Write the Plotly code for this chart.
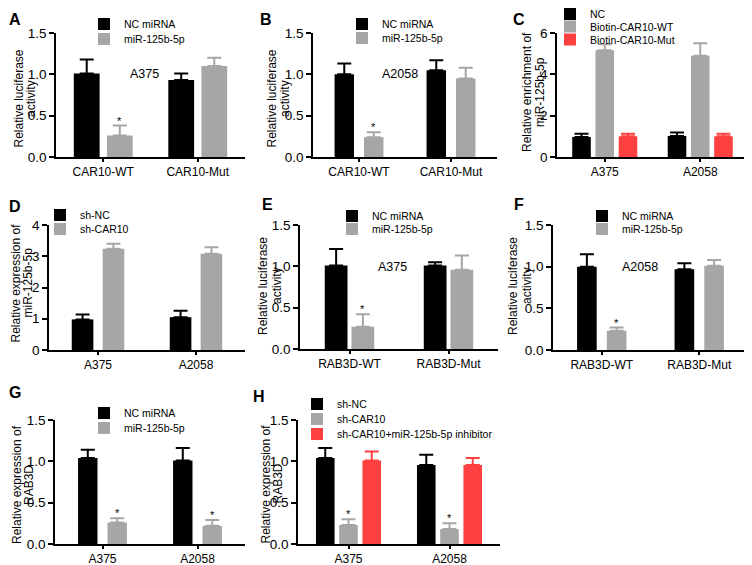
import plotly.graph_objects as go

W, H = 752, 565          # browser window
OFF = 8                  # page body margin in which the figure sits
FW, FH = W - OFF, H - OFF
FONT = "Liberation Sans, Arial, sans-serif"
BLACK, GRAY, RED = "#000000", "#a6a6a6", "#ff4040"

# ---------------- data ----------------
# A
a_cats = ["CAR10-WT", "CAR10-Mut"]
a_names = ["NC miRNA", "miR-125b-5p"]
a_nc, a_nc_err = [1.01, 0.93], [0.17, 0.08]
a_mir, a_mir_err = [0.26, 1.10], [0.12, 0.10]
a_nc_star, a_mir_star = [False, False], [True, False]
# B
b_cats = ["CAR10-WT", "CAR10-Mut"]
b_names = ["NC miRNA", "miR-125b-5p"]
b_nc, b_nc_err = [1.00, 1.05], [0.13, 0.12]
b_mir, b_mir_err = [0.24, 0.95], [0.06, 0.13]
b_nc_star, b_mir_star = [False, False], [True, False]
# C
c_cats = ["A375", "A2058"]
c_names = ["NC", "Biotin-CAR10-WT", "Biotin-CAR10-Mut"]
c_nc, c_nc_err = [0.97, 1.02], [0.16, 0.16]
c_wt, c_wt_err = [5.17, 4.90], [0.29, 0.61]
c_mut, c_mut_err = [1.00, 1.00], [0.13, 0.13]
# D
d_cats = ["A375", "A2058"]
d_names = ["sh-NC", "sh-CAR10"]
d_nc, d_nc_err = [0.98, 1.05], [0.16, 0.21]
d_sh, d_sh_err = [3.24, 3.08], [0.16, 0.21]
# E
e_cats = ["RAB3D-WT", "RAB3D-Mut"]
e_names = ["NC miRNA", "miR-125b-5p"]
e_nc, e_nc_err = [1.01, 1.01], [0.20, 0.04]
e_mir, e_mir_err = [0.27, 0.96], [0.15, 0.17]
e_nc_star, e_mir_star = [False, False], [True, False]
# F
f_cats = ["RAB3D-WT", "RAB3D-Mut"]
f_names = ["NC miRNA", "miR-125b-5p"]
f_nc, f_nc_err = [1.00, 0.97], [0.15, 0.07]
f_mir, f_mir_err = [0.23, 1.01], [0.04, 0.07]
f_nc_star, f_mir_star = [False, False], [True, False]
# G
g_cats = ["A375", "A2058"]
g_names = ["NC miRNA", "miR-125b-5p"]
g_nc, g_nc_err = [1.04, 1.01], [0.10, 0.15]
g_mir, g_mir_err = [0.26, 0.22], [0.05, 0.07]
g_nc_star, g_mir_star = [False, False], [True, True]
# H
h_cats = ["A375", "A2058"]
h_names = ["sh-NC", "sh-CAR10", "sh-CAR10+miR-125b-5p inhibitor"]
h_nc, h_nc_err = [1.04, 0.955], [0.12, 0.125]
h_sh, h_sh_err = [0.23, 0.18], [0.07, 0.07]
h_inh, h_inh_err = [1.01, 0.955], [0.11, 0.085]
h_sh_star = [True, True]

LUC1, LUC2 = "Relative luciferase", "activity"


def px(p):
    return (p - OFF) / FW


def py(p):
    return 1 - (p - OFF) / FH


fig = go.Figure()
_leg = [0]


def add_panel(i, cats, names, vals, errs, colors, stars, xpx, ypx, yrange,
              dtick, tickfmt, titles, leg_text_x, leg_ys, bargap,
              groupgap, letter, letter_xy, note=None, cap=7):
    xa = "x" if i == 1 else f"x{i}"
    ya = "y" if i == 1 else f"y{i}"
    n = len(names)
    slot = (1 - bargap) / n
    width = slot * (1 - groupgap)
    for k in range(n):
        _leg[0] += 1
        lg = "legend" if _leg[0] == 1 else f"legend{_leg[0]}"
        off = -(1 - bargap) / 2 + k * slot + slot * groupgap / 2
        fig.add_trace(go.Bar(
            x=cats, y=vals[k], name=names[k],
            marker=dict(color=colors[k], line=dict(width=0)),
            width=width, offset=off,
            error_y=dict(type="data", symmetric=False, array=errs[k],
                         arrayminus=[0] * len(cats), color=colors[k],
                         thickness=2, width=cap),
            xaxis=xa, yaxis=ya, legend=lg, showlegend=True,
        ))
        fig.layout[lg] = dict(
            x=px(leg_text_x - 33), y=py(leg_ys[k] - 13.5),
            xanchor="left", yanchor="top", bgcolor="rgba(0,0,0,0)",
            font=dict(size=10.5, color="black"))
        if stars[k] is not None:
            for c, s in enumerate(stars[k]):
                if s:
                    fig.add_annotation(
                        x=c + off + width / 2, y=vals[k][c] + errs[k][c],
                        xref=xa, yref=ya, text="*", showarrow=False,
                        yanchor="bottom", yshift=-3,
                        font=dict(size=11, color="black"))
    axkey = "" if i == 1 else str(i)
    fig.layout["xaxis" + axkey] = dict(
        domain=[px(xpx[0]), px(xpx[1])], anchor=ya,
        range=[-0.5, len(cats) - 0.5], showline=True, linecolor="black",
        linewidth=1.5, ticks="outside", ticklen=3, tickwidth=1.5,
        tickcolor="black", tickfont=dict(size=12, color="black"),
        showgrid=False, zeroline=False)
    fig.layout["yaxis" + axkey] = dict(
        domain=[py(ypx[1]), py(ypx[0])], anchor=xa,
        range=yrange, dtick=dtick, tick0=0, tickformat=tickfmt,
        showline=True, linecolor="black", linewidth=1.5, ticks="outside",
        ticklen=5, tickwidth=1.5, tickcolor="black",
        tickfont=dict(size=13.5, color="black"), showgrid=False,
        zeroline=False)
    tl1, tl2, tx1, tx2, tyc = titles
    for txt, tx in ((tl1, tx1), (tl2, tx2)):
        fig.add_annotation(x=px(tx), y=py(tyc), xref="paper", yref="paper",
                           text=txt, textangle=-90, showarrow=False,
                           xanchor="center", yanchor="middle",
                           font=dict(size=12, color="black"))
    fig.add_annotation(x=px(letter_xy[0]), y=py(letter_xy[1]),
                       xref="paper", yref="paper", text=f"<b>{letter}</b>",
                       showarrow=False, xanchor="center", yanchor="middle",
                       borderpad=0, font=dict(size=16, color="black"))
    if note is not None:
        fig.add_annotation(x=note[1], y=note[2], xref=xa, yref=ya,
                           text=note[0], showarrow=False, xanchor="center",
                           yanchor="middle", font=dict(size=12.5, color="black"))


add_panel(1, a_cats, a_names, [a_nc, a_mir], [a_nc_err, a_mir_err],
          [BLACK, GRAY], [a_nc_star, a_mir_star], (56, 245), (33, 157),
          [0, 1.5], 0.5, ".1f", (LUC1, LUC2, 18, 30.5, 98.5),
          117, [23, 38], 0.3, 0.22, "A", (15, 19), note=("A375", 0.44, 1.0))
add_panel(2, b_cats, b_names, [b_nc, b_mir], [b_nc_err, b_mir_err],
          [BLACK, GRAY], [b_nc_star, b_mir_star], (313, 497), (33, 157),
          [0, 1.5], 0.5, ".1f", (LUC1, LUC2, 271.5, 285, 99),
          375, [23, 37], 0.36, 0.34, "B", (266, 19), note=("A2058", 0.45, 1.0))
add_panel(3, c_cats, c_names, [c_nc, c_wt, c_mut],
          [c_nc_err, c_wt_err, c_mut_err], [BLACK, GRAY, RED],
          [None, None, None], (557, 748), (33, 157), [0, 6], 2, "d",
          ("Relative enrichment of", "miR-125b-5p", 527, 540, 92),
          583, [13, 25.5, 38.5], 0.27, 0.2, "C", (519, 19))
add_panel(4, d_cats, d_names, [d_nc, d_sh], [d_nc_err, d_sh_err],
          [BLACK, GRAY], [None, None], (49, 245), (225, 350), [0, 4], 1, "d",
          ("Relative expression of", "miR-125b-5p", 15.5, 27.5, 283),
          73, [214, 228], 0.37, 0.3, "D", (15, 206))
add_panel(5, e_cats, e_names, [e_nc, e_mir], [e_nc_err, e_mir_err],
          [BLACK, GRAY], [e_nc_star, e_mir_star], (300, 498), (225, 349),
          [0, 1.5], 0.5, ".1f", (LUC1, LUC2, 263, 277, 286),
          365, [215, 228], 0.46, 0.15, "E", (267, 204), note=("A375", 0.43, 0.99))
add_panel(6, f_cats, f_names, [f_nc, f_mir], [f_nc_err, f_mir_err],
          [BLACK, GRAY], [f_nc_star, f_mir_star], (553, 748), (225, 350),
          [0, 1.5], 0.5, ".1f", (LUC1, LUC2, 513, 527, 286),
          615, [215, 228], 0.39, 0.34, "F", (519, 204), note=("A2058", 0.39, 1.0))
add_panel(7, g_cats, g_names, [g_nc, g_mir], [g_nc_err, g_mir_err],
          [BLACK, GRAY], [g_nc_star, g_mir_star], (55, 245), (420, 544),
          [0, 1.5], 0.5, ".1f",
          ("Relative expression of", "RAB3D", 17, 29, 485),
          117, [412, 427], 0.38, 0.34, "G", (15, 392))
add_panel(8, h_cats, h_names, [h_nc, h_sh, h_inh],
          [h_nc_err, h_sh_err, h_inh_err], [BLACK, GRAY, RED],
          [None, h_sh_star, None], (298, 500), (420, 544), [0, 1.5], 0.5,
          ".1f", ("Relative expression of", "RAB3D", 265.5, 277.5, 484),
          330, [403, 418, 433], 0.31, 0.2, "H", (259, 397))

fig.update_layout(
    width=FW, height=FH,
    margin=dict(l=0, r=0, t=0, b=0, autoexpand=False),
    paper_bgcolor="white", plot_bgcolor="white", barmode="overlay",
    font=dict(family=FONT, color="black"), showlegend=True,
)

fig.write_html("out.html")
